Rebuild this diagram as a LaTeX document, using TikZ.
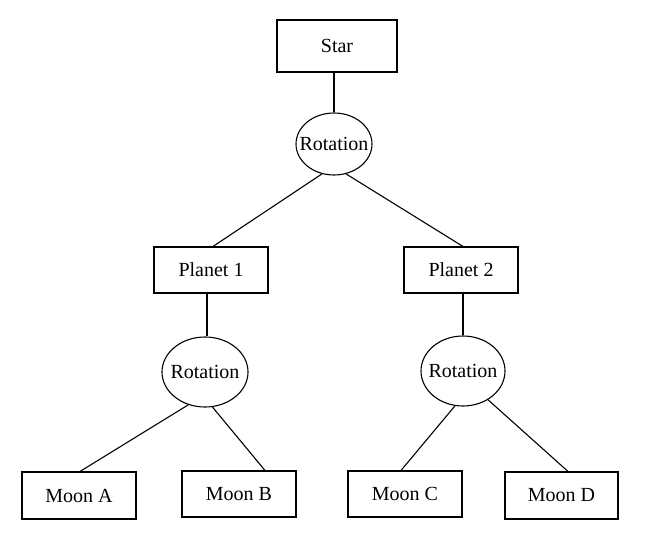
\documentclass[tikz,border=0pt]{standalone}
\usepackage{fontspec}
\setmainfont{Liberation Serif}
\usetikzlibrary{shapes.geometric}
\begin{document}
\begin{tikzpicture}[x=1pt,y=-1pt,line width=1.1pt,
  box/.style={draw,rectangle,inner sep=0pt,font=\fontsize{20}{23}\selectfont},
  rot/.style={draw,ellipse,inner sep=0pt,font=\fontsize{20}{23}\selectfont}]
\useasboundingbox (0,0) rectangle (671,537);
\node[box,minimum width=120pt,minimum height=52pt] (star) at (337,46) {Star};
\node[rot,minimum width=76pt,minimum height=62pt] (r1) at (334,144) {\makebox[0pt]{Rotation}};
\node[box,minimum width=114pt,minimum height=46pt] (p1) at (211,270) {Planet 1};
\node[box,minimum width=114pt,minimum height=46pt] (p2) at (461,270) {Planet 2};
\node[rot,minimum width=86pt,minimum height=70pt] (r2) at (205,372) {\makebox[0pt]{Rotation}};
\node[rot,minimum width=84pt,minimum height=70pt] (r3) at (463,371) {\makebox[0pt]{Rotation}};
\node[box,minimum width=114pt,minimum height=47pt] (ma) at (79,495.5) {Moon A};
\node[box,minimum width=114pt,minimum height=46pt] (mb) at (239,494) {Moon B};
\node[box,minimum width=114pt,minimum height=46pt] (mc) at (405,494) {Moon C};
\node[box,minimum width=113pt,minimum height=47pt] (md) at (561.5,495.5) {Moon D};
\draw (r1.north) -- (r1.north |- star.south);
\draw (r1.248) -- ([xshift=2pt]p1.north);
\draw (r1.292) -- ([xshift=2pt]p2.north);
\draw ([xshift=2pt]r2.north) -- ([xshift=2pt]r2.north |- p1.south);
\draw (r3.north) -- (r3.north |- p2.south);
\draw (r2.243) -- ([xshift=1pt]ma.north);
\draw (r2.282) -- ([xshift=26pt]mb.north);
\draw (r3.257) -- ([xshift=-4pt]mc.north);
\draw (r3.311) -- ([xshift=6.5pt]md.north);
\end{tikzpicture}
\end{document}
